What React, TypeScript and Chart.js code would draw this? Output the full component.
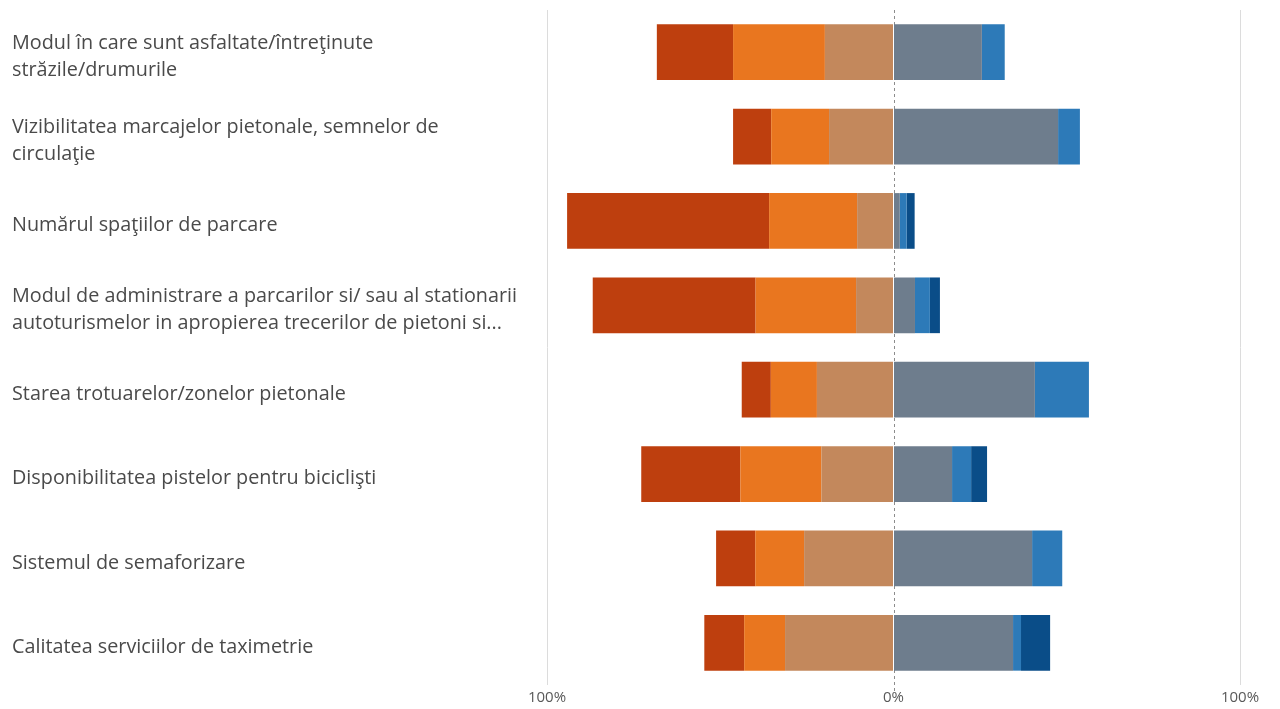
import React, { useEffect, useRef } from "react";
import { Chart, registerables } from "chart.js";

Chart.register(...registerables);

const categories: (string | string[])[] = [
  ["Modul în care sunt asfaltate/întreţinute", "străzile/drumurile"],
  ["Vizibilitatea marcajelor pietonale, semnelor de", "circulaţie"],
  "Numărul spaţiilor de parcare",
  ["Modul de administrare a parcarilor si/ sau al stationarii", "autoturismelor in apropierea trecerilor de pietoni si..."],
  "Starea trotuarelor/zonelor pietonale",
  "Disponibilitatea pistelor pentru biciclişti",
  "Sistemul de semaforizare",
  "Calitatea serviciilor de taximetrie",
];

// negative side (drawn to the left of 0), percentages
const veryDissatisfied = [22, 11, 58.3, 47, 8.4, 28.6, 11.3, 11.5];
const dissatisfied = [26.5, 16.7, 25.4, 29, 13.3, 23.4, 14.1, 11.8];
const neutral = [19.8, 18.6, 10.5, 10.8, 22.1, 20.8, 25.8, 31.3];
// positive side
const satisfied = [25.5, 47.5, 1.8, 6.2, 40.8, 16.9, 40, 34.5];
const quiteSatisfied = [6.6, 6.3, 2, 4.3, 15.6, 5.5, 8.7, 2.3];
const verySatisfied = [0, 0, 2.3, 2.9, 0, 4.6, 0, 8.4];

const xTickValues = [-100, 0, 100];
const xTickLabels = ["100%", "0%", "100%"];

const colors = {
  veryDissatisfied: "#BE3F0E",
  dissatisfied: "#E9761F",
  neutral: "#C3885C",
  satisfied: "#6E7D8D",
  quiteSatisfied: "#2D7AB8",
  verySatisfied: "#0A4D88",
};

const zeroLinePlugin = {
  id: "zeroLine",
  beforeDatasetsDraw(chart: any) {
    const x = chart.scales.x;
    const area = chart.chartArea;
    const px = Math.round(x.getPixelForValue(0)) + 0.5;
    const ctx = chart.ctx;
    ctx.save();
    ctx.strokeStyle = "#8C8C8C";
    ctx.lineWidth = 1;
    ctx.setLineDash([3, 3]);
    ctx.beginPath();
    ctx.moveTo(px, area.top);
    ctx.lineTo(px, area.bottom + 6);
    ctx.stroke();
    ctx.restore();
  },
};

export default function App() {
  const ref = useRef<HTMLCanvasElement>(null);

  useEffect(() => {
    if (!ref.current) return;
    const neg = (a: number[]) => a.map((v) => -v);
    const common = { categoryPercentage: 1, barPercentage: 0.66, borderWidth: 0 };
    const chart = new Chart(ref.current, {
      type: "bar",
      data: {
        labels: categories,
        datasets: [
          { label: "neutral", data: neg(neutral), backgroundColor: colors.neutral, ...common },
          { label: "dissatisfied", data: neg(dissatisfied), backgroundColor: colors.dissatisfied, ...common },
          { label: "veryDissatisfied", data: neg(veryDissatisfied), backgroundColor: colors.veryDissatisfied, ...common },
          { label: "satisfied", data: satisfied, backgroundColor: colors.satisfied, ...common },
          { label: "quiteSatisfied", data: quiteSatisfied, backgroundColor: colors.quiteSatisfied, ...common },
          { label: "verySatisfied", data: verySatisfied, backgroundColor: colors.verySatisfied, ...common },
        ],
      },
      options: {
        indexAxis: "y",
        animation: false,
        responsive: true,
        maintainAspectRatio: false,
        layout: { padding: { left: 12, top: 10, right: 40, bottom: 0 } },
        plugins: { legend: { display: false }, tooltip: { enabled: false } },
        scales: {
          x: {
            stacked: true,
            min: -100,
            max: 100,
            afterBuildTicks: (s: any) => {
              s.ticks = xTickValues.map((v) => ({ value: v }));
            },
            afterFit: (s: any) => {
              s.height = 24;
              s.paddingLeft = 0;
              s.paddingRight = 0;
            },
            ticks: {
              callback: (v: any) => xTickLabels[xTickValues.indexOf(Number(v))] ?? "",
              color: "#595959",
              font: { family: "Open Sans", size: 15 },
              padding: 4,
              maxRotation: 0,
            },
            grid: {
              drawTicks: false,
              color: (ctx: any) => (ctx.tick && ctx.tick.value === 0 ? "rgba(0,0,0,0)" : "#DCDCDC"),
            },
            border: { display: false },
          },
          y: {
            stacked: true,
            afterFit: (s: any) => {
              s.width = 535;
              s.paddingTop = 0;
              s.paddingBottom = 0;
            },
            ticks: {
              crossAlign: "far",
              color: "#4A4A4A",
              font: { family: "Open Sans", size: 19.8, lineHeight: 1.36 },
              labelOffset: 4.5,
              autoSkip: false,
            },
            grid: { display: false },
            border: { display: false },
          },
        },
      },
      plugins: [zeroLinePlugin],
    } as any);
    return () => chart.destroy();
  }, []);

  return (
    <div style={{ position: "fixed", left: 0, top: 0, width: 1280, height: 709, background: "#fff" }}>
      <canvas ref={ref} />
    </div>
  );
}
